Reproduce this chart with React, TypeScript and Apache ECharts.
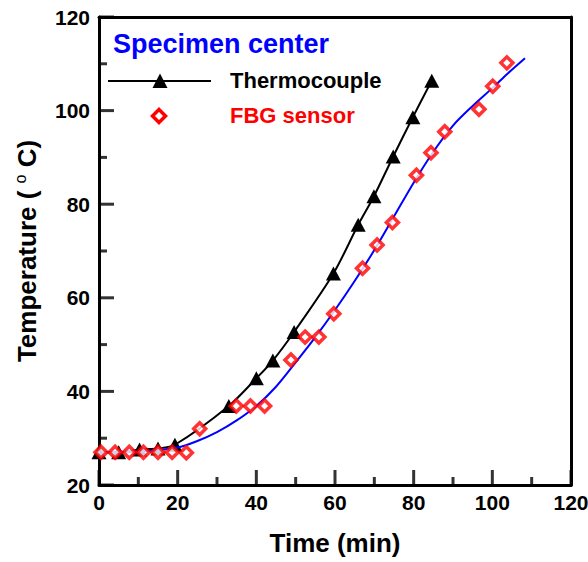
import React, { useEffect, useRef } from "react";
import * as echarts from "echarts";

const thermoData: [number, number][] = [
  [0, 27], [5, 27], [10.3, 27.6], [15, 27.8], [19.3, 28.6], [33, 36.9], [40, 42.8],
  [44.2, 46.6], [49.6, 52.7], [59.6, 65.2], [65.9, 75.6], [69.9, 81.7],
  [74.8, 90.2], [79.8, 98.6], [84.6, 106.4],
];

const fbgData: [number, number][] = [
  [0.5, 27], [4.1, 27], [7.7, 27], [11.3, 27], [15, 27], [18.6, 27], [22.2, 26.9],
  [25.6, 32], [34.9, 36.9], [38.5, 36.9], [42.1, 36.9], [48.8, 46.7], [52.4, 51.6],
  [55.9, 51.6], [59.7, 56.6], [67, 66.3], [70.7, 71.3], [74.6, 76.1], [80.7, 86.2],
  [84.4, 91], [87.9, 95.5], [96.6, 100.3], [100.1, 105.2], [103.7, 110.2],
];

const fitCurve: [number, number][] = [
  [0, 27], [10, 27.1], [20, 28], [25, 29.4], [30, 31.3], [35, 33.8], [40, 36.9],
  [45, 41], [50, 46.2], [55, 51.6], [60, 57.4], [65, 63.6], [70, 70.2], [75, 77.4],
  [80, 84.6], [85, 91.2], [90, 96.8], [95, 101], [100, 104.8], [104, 108], [108.3, 111.2],
];

const xTicks = [0, 20, 40, 60, 80, 100, 120];
const yTicks = [20, 40, 60, 80, 100, 120];

const FONT = "'Liberation Sans', Arial, Helvetica, sans-serif";

export default function App() {
  const ref = useRef<HTMLDivElement>(null);
  useEffect(() => {
    document.body.style.margin = "0";
    if (!ref.current) return;
    const chart = echarts.init(ref.current, null, { renderer: "svg" });
    const xMin = xTicks[0];
    const xMax = xTicks[xTicks.length - 1];
    const yMin = yTicks[0];
    const yMax = yTicks[yTicks.length - 1];
    const mids = (arr: number[]) => arr.slice(0, -1).map((v, i) => (v + arr[i + 1]) / 2);
    const frameAxis = {
      axisLine: { show: true, onZero: false, lineStyle: { color: "#000", width: 3 } },
      axisTick: { show: false },
      axisLabel: { show: false },
      splitLine: { show: false },
    };
    const tickSeries = (data: number[][], size: number[], offset: number[]) => ({
      type: "scatter",
      data,
      symbol: "rect",
      symbolSize: size,
      symbolOffset: offset,
      itemStyle: { color: "#000" },
      silent: true,
      clip: false,
      z: 1,
      tooltip: { show: false },
    });
    chart.setOption({
      animation: false,
      grid: { left: 99, right: 17, top: 17, bottom: 77, outerBoundsMode: "none" },
      xAxis: [
        {
          type: "value",
          position: "bottom",
          min: xMin,
          max: xMax,
          interval: 20,
          axisLine: { show: true, onZero: false, lineStyle: { color: "#000", width: 3 } },
          axisTick: { show: false },
          splitLine: { show: false },
          axisLabel: { color: "#000", fontSize: 21, fontWeight: "bold", fontFamily: FONT, margin: 7 },
          name: "Time (min)",
          nameLocation: "middle",
          nameGap: 45,
          nameTextStyle: { color: "#000", fontSize: 26, fontWeight: "bold", fontFamily: FONT },
        },
        { type: "value", position: "top", min: xMin, max: xMax, ...frameAxis },
      ],
      yAxis: [
        {
          type: "value",
          position: "left",
          min: yMin,
          max: yMax,
          interval: 20,
          axisLine: { show: true, onZero: false, lineStyle: { color: "#000", width: 3 } },
          axisTick: { show: false },
          splitLine: { show: false },
          axisLabel: { color: "#000", fontSize: 21, fontWeight: "bold", fontFamily: FONT, margin: 9 },
          name: "{a|Temperature ( }{s|o}{a| C)}",
          nameLocation: "middle",
          nameGap: 57,
          nameTextStyle: {
            color: "#000",
            fontFamily: FONT,
            rich: {
              a: { fontSize: 26, fontWeight: "bold", fontFamily: FONT, color: "#000", lineHeight: 30 },
              s: { fontSize: 16, fontFamily: FONT, color: "#000", verticalAlign: "top", lineHeight: 30 },
            },
          },
        },
        { type: "value", position: "right", min: yMin, max: yMax, ...frameAxis },
      ],
      series: [
        tickSeries(xTicks.map((v) => [v, yMin]), [3, 15], [0, -7.5]),
        tickSeries(mids(xTicks).map((v) => [v, yMin]), [3, 8], [0, -4]),
        tickSeries(yTicks.map((v) => [xMin, v]), [15, 3], [7.5, 0]),
        tickSeries(mids(yTicks).map((v) => [xMin, v]), [8, 3], [4, 0]),
        {
          name: "fit",
          type: "line",
          data: fitCurve,
          smooth: 0.3,
          symbol: "none",
          lineStyle: { color: "#0000ff", width: 2 },
          z: 3,
        },
        {
          name: "Thermocouple",
          type: "line",
          data: thermoData,
          smooth: 0.3,
          symbol: "triangle",
          symbolSize: [15, 14],
          itemStyle: { color: "#000" },
          lineStyle: { color: "#000", width: 2 },
          z: 2,
        },
        {
          name: "FBG sensor",
          type: "scatter",
          data: fbgData,
          symbol: "diamond",
          symbolSize: 12,
          itemStyle: { color: "#fff", borderColor: "#ff0000", borderWidth: 3.5 },
          z: 4,
        },
      ],
      graphic: [
        {
          type: "text", left: 113, top: 30,
          style: { text: "Specimen center", fill: "#0000ff", font: `bold 27px ${FONT}` },
        },
        {
          type: "line",
          shape: { x1: 108, y1: 81, x2: 211, y2: 81 },
          style: { stroke: "#000", lineWidth: 2 },
        },
        {
          type: "polygon",
          shape: { points: [[160, 73.5], [152.5, 88], [167.5, 88]] },
          style: { fill: "#000" },
        },
        {
          type: "text", left: 230, top: 69,
          style: { text: "Thermocouple", fill: "#000", font: `bold 22px ${FONT}` },
        },
        {
          type: "polygon",
          shape: { points: [[159, 109.5], [165.5, 116], [159, 122.5], [152.5, 116]] },
          style: { fill: "#fff", stroke: "#ff0000", lineWidth: 3.5 },
        },
        {
          type: "text", left: 230, top: 104,
          style: { text: "FBG sensor", fill: "#ff0000", font: `bold 22px ${FONT}` },
        },
      ],
    });
    return () => chart.dispose();
  }, []);
  return <div ref={ref} style={{ width: 588, height: 562 }} />;
}
